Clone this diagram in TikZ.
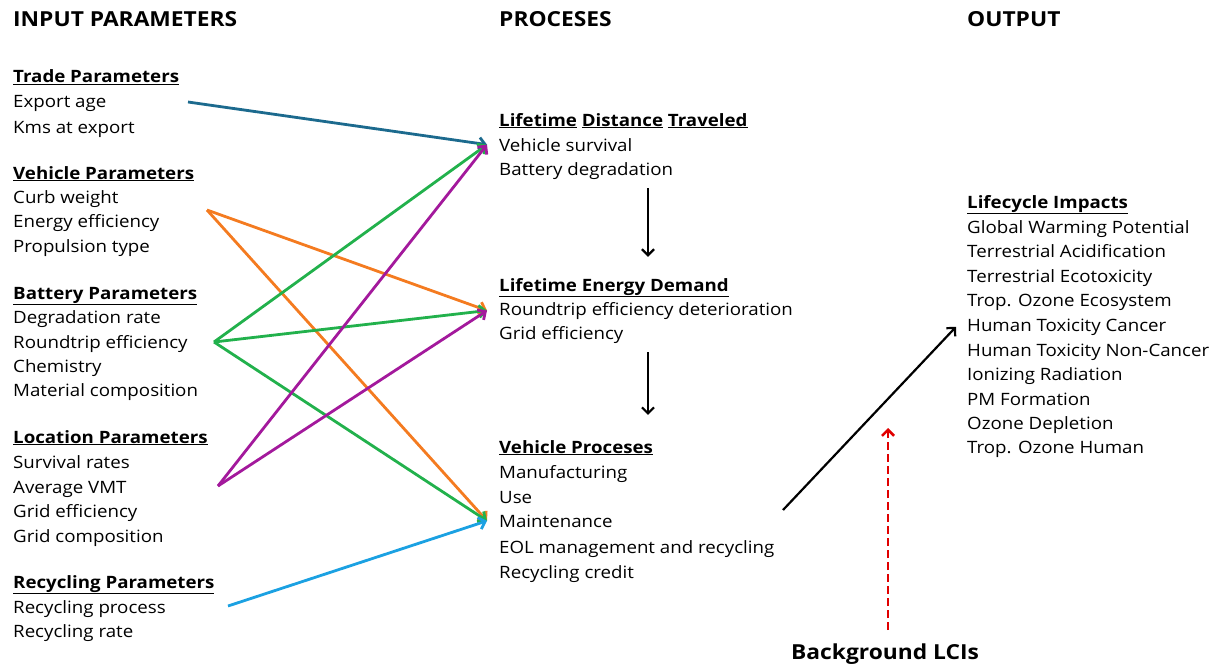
\documentclass[tikz,border=0pt]{standalone}
\usepackage{fontspec}
\setmainfont{Open Sans}[FakeStretch=1.1]
\usetikzlibrary{arrows.meta}
\definecolor{trade}{HTML}{1C6A8E}
\definecolor{veh}{HTML}{F47B20}
\definecolor{bat}{HTML}{22B14C}
\definecolor{loc}{HTML}{A3199C}
\definecolor{rec}{HTML}{1BA1E2}
\definecolor{bg}{HTML}{E00000}
\begin{document}
\begin{tikzpicture}[x=1pt,y=-1pt,>={Straight Barb[length=6pt,width=12pt]}]
\tikzstyle{t}=[anchor=base west,inner sep=0pt,font=\fontsize{17}{20}\selectfont]
\tikzstyle{hd}=[t,font=\fontsize{17}{20}\selectfont\bfseries]
\tikzstyle{big}=[t,font=\fontsize{20.7}{24}\selectfont\bfseries]
\tikzstyle{a}=[line width=2.8pt,->]
\tikzstyle{k}=[line width=2.2pt,->]
\useasboundingbox (0,0) rectangle (1222,666);
% column heads
\node[big] (inp) at (13,27) {INPUT PARAMETERS};
\node[big] (pro) at (499,27) {PROCESES};
\node[big] (out) at (967,27) {OUTPUT};
% input parameters
\node[hd] (tp) at (13,83) {\underline{Trade Parameters}};
\node[t] (expage) at (13,108) {Export age};
\node[t] (kms) at (13,133) {Kms at export};
\node[hd] (vp) at (13,179) {\underline{Vehicle Parameters}};
\node[t] (curb) at (13,203) {Curb weight};
\node[t] (eneff) at (13,227) {Energy efficiency};
\node[t] (prop) at (13,252) {Propulsion type};
\node[hd] (bp) at (13,299) {\underline{Battery Parameters}};
\node[t] (degr) at (13,323) {Degradation rate};
\node[t] (rtrip) at (13,348) {Roundtrip efficiency};
\node[t] (chem) at (13,372) {Chemistry};
\node[t] (matc) at (13,396) {Material composition};
\node[hd] (lp) at (13,443) {\underline{Location Parameters}};
\node[t] (surv) at (13,468) {Survival rates};
\node[t] (vmt) at (13,493) {Average VMT};
\node[t] (gride) at (13,517) {Grid efficiency};
\node[t] (gridc) at (13,542) {Grid composition};
\node[hd] (rp) at (13,588) {\underline{Recycling Parameters}};
\node[t] (recp) at (13,613) {Recycling process};
\node[t] (recr) at (13,637) {Recycling rate};
% processes
\node[hd] (ldt) at (499,126) {\underline{Lifetime} \underline{Distance} \underline{Traveled}};
\node[t] (vsurv) at (499,151) {Vehicle survival};
\node[t] (bdeg) at (499,175) {Battery degradation};
\node[hd] (led) at (499,291) {\underline{Lifetime Energy Demand}};
\node[t] (rted) at (499,315) {Roundtrip efficiency deterioration};
\node[t] (pgrid) at (499,339) {Grid efficiency};
\node[hd] (vpr) at (499,453) {\underline{Vehicle Proceses}};
\node[t] (manu) at (499,478) {Manufacturing};
\node[t] (use) at (499,503) {Use};
\node[t] (maint) at (499,527) {Maintenance};
\node[t] (eol) at (499,553) {EOL management and recycling};
\node[t] (rcred) at (499,578) {Recycling credit};
% output
\node[hd] (lci) at (967,208) {\underline{Lifecycle Impacts}};
\node[t] (gwp) at (967,233) {Global Warming Potential};
\node[t] (tac) at (967,257) {Terrestrial Acidification};
\node[t] (tec) at (967,282) {Terrestrial Ecotoxicity};
\node[t] (toe) at (967,306) {Trop. Ozone Ecosystem};
\node[t] (htc) at (967,331) {Human Toxicity Cancer};
\node[t] (htn) at (967,356) {Human Toxicity Non-Cancer};
\node[t] (ion) at (967,380) {Ionizing Radiation};
\node[t] (pmf) at (967,405) {PM Formation};
\node[t] (ozd) at (967,429) {Ozone Depletion};
\node[t] (toh) at (967,453) {Trop. Ozone Human};
\node[big,anchor=base] (bglci) at (885,659) {Background LCIs};
% arrow tails and tips
\coordinate (trtail) at (188,102);
\coordinate (vetail) at (207,210);
\coordinate (batail) at (214,342);
\coordinate (lotail) at (218,486);
\coordinate (retail) at (228,606);
\coordinate (vptail) at (783,510);
\coordinate (bgtip) at (888,428);
% arrows
\draw[a,trade] (trtail) -- ([xshift=-12pt]vsurv.west);
\draw[a,veh] (vetail) -- ([xshift=-12pt]rted.west);
\draw[a,veh] (vetail) -- ([xshift=-12pt]maint.west);
\draw[a,bat] (batail) -- ([xshift=-12pt]vsurv.west);
\draw[a,bat] (batail) -- ([xshift=-12pt]rted.west);
\draw[a,bat] (batail) -- ([xshift=-12pt]maint.west);
\draw[a,loc] (lotail) -- ([xshift=-12pt]vsurv.west);
\draw[a,loc] (lotail) -- ([xshift=-12pt]rted.west);
\draw[a,rec] (retail) -- ([xshift=-12pt]maint.west);
\draw[k] ([xshift=149pt,yshift=-9pt]bdeg.south west) -- ([xshift=149pt,yshift=21pt]led.north west);
\draw[k] ([xshift=149pt,yshift=-9pt]pgrid.south west) -- ([xshift=149pt,yshift=25pt]vpr.north west);
\draw[k] (vptail) -- ([xshift=-11pt]htc.west);
\draw[k,bg,line width=2.6pt,dash pattern=on 8pt off 4pt] ([xshift=3pt,yshift=13pt]bglci.north) -- (bgtip);
\end{tikzpicture}
\end{document}
